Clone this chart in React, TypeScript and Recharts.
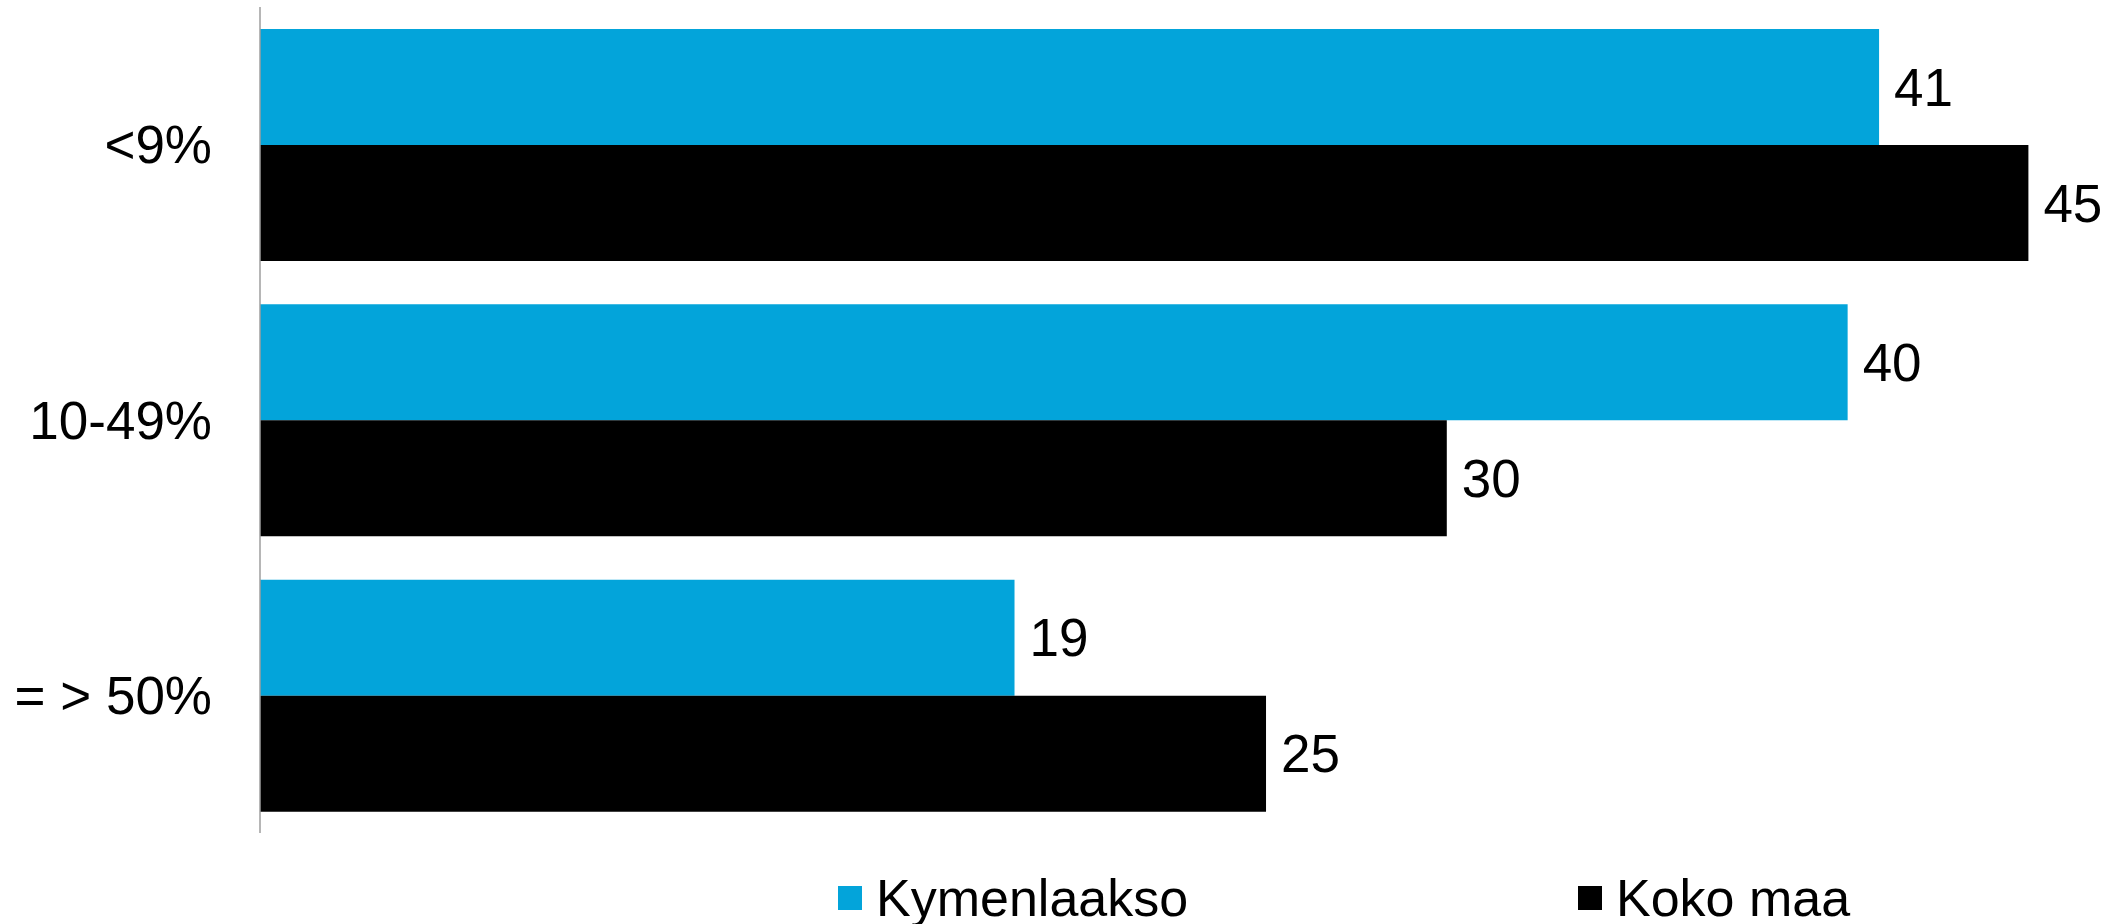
import { BarChart, Bar, XAxis, YAxis, Legend, LabelList } from 'recharts';

const categories = ['<9%', '10-49%', '= > 50%'];
const kymenlaaksoValues = [41.2, 40.4, 19.2];
const kokoMaaValues = [45.0, 30.2, 25.6];
const kymenlaaksoLabels = ['41', '40', '19'];
const kokoMaaLabels = ['45', '30', '25'];
const seriesNames = ['Kymenlaakso', 'Koko maa'];
const seriesColors = ['#03A4DA', '#000000'];

const chartData = categories.map((name, i) => ({
  name,
  kymenlaakso: kymenlaaksoValues[i],
  kokoMaa: kokoMaaValues[i],
  kymLabel: kymenlaaksoLabels[i],
  kokoLabel: kokoMaaLabels[i],
}));

const FONT = '"Liberation Sans", Arial, sans-serif';

function LegendContent() {
  return (
    <div style={{ position: 'relative', width: 2119, height: 91, fontFamily: FONT }}>
      {seriesNames.map((label, i) => (
        <div
          key={label}
          style={{
            position: 'absolute',
            left: i === 0 ? 838 : 1578,
            top: 42,
            display: 'flex',
            alignItems: 'center',
            height: 46,
          }}
        >
          <span style={{ width: 24, height: 24, background: seriesColors[i], marginRight: 14 }} />
          <span style={{ fontSize: 52, color: '#000', lineHeight: '46px' }}>{label}</span>
        </div>
      ))}
    </div>
  );
}

export default function App() {
  return (
    <div style={{ position: 'absolute', left: 0, top: 0, width: 2119, height: 924, background: '#fff' }}>
      <BarChart
        width={2119}
        height={924}
        data={chartData}
        layout="vertical"
        margin={{ top: 7, right: 12, left: 0, bottom: 0 }}
        barCategoryGap={22}
        barGap={0}
      >
        <XAxis type="number" domain={[0, 47]} hide />
        <YAxis
          type="category"
          dataKey="name"
          width={260}
          axisLine={{ stroke: '#9E9E9E', strokeWidth: 1.5 }}
          tickLine={false}
          tickSize={0}
          tickMargin={48}
          tick={{ fill: '#000', fontSize: 53, fontFamily: FONT }}
        />
        <Legend
          verticalAlign="bottom"
          content={<LegendContent />}
          wrapperStyle={{ left: 0, bottom: 0, width: 2119, height: 91 }}
        />
        <Bar dataKey="kymenlaakso" name={seriesNames[0]} fill={seriesColors[0]} isAnimationActive={false}>
          <LabelList
            dataKey="kymLabel"
            position="right"
            offset={15}
            fill="#000"
            fontSize={53}
            fontFamily={FONT}
          />
        </Bar>
        <Bar dataKey="kokoMaa" name={seriesNames[1]} fill={seriesColors[1]} isAnimationActive={false}>
          <LabelList
            dataKey="kokoLabel"
            position="right"
            offset={15}
            fill="#000"
            fontSize={53}
            fontFamily={FONT}
          />
        </Bar>
      </BarChart>
    </div>
  );
}
